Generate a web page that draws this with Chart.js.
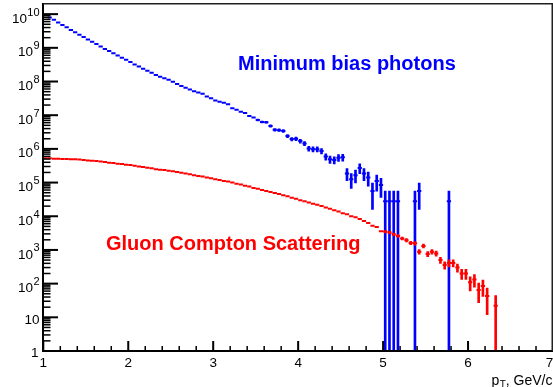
<!DOCTYPE html>
<html>
<head>
<meta charset="utf-8">
<script src="https://cdn.jsdelivr.net/npm/chart.js@4.4.0/dist/chart.umd.min.js"></script>
<style>
html,body{margin:0;padding:0;background:#ffffff;}
#wrap{width:553px;height:387px;}
</style>
</head>
<body>
<div id="wrap"><canvas id="c" width="553" height="387"></canvas></div>
<script>
// ---- bin centres (GeV/c), bin width 0.05 ----
const pT = [
  1.025,1.075,1.125,1.175,1.225,1.275,1.325,1.375,1.425,1.475,
  1.525,1.575,1.625,1.675,1.725,1.775,1.825,1.875,1.925,1.975,
  2.025,2.075,2.125,2.175,2.225,2.275,2.325,2.375,2.425,2.475,
  2.525,2.575,2.625,2.675,2.725,2.775,2.825,2.875,2.925,2.975,
  3.025,3.075,3.125,3.175,3.225,3.275,3.325,3.375,3.425,3.475,
  3.525,3.575,3.625,3.675,3.725,3.775,3.825,3.875,3.925,3.975,
  4.025,4.075,4.125,4.175,4.225,4.275,4.325,4.375,4.425,4.475,
  4.525,4.575,4.625,4.675,4.725,4.775,4.825,4.875,4.925,4.975,
  5.025,5.075,5.125,5.175,5.225,5.275,5.325,5.375,5.425,5.475,
  5.525,5.575,5.625,5.675,5.725,5.775,5.825,5.875,5.925,5.975,
  6.025,6.075,6.125,6.175,6.225,6.275,6.325
];

// ---- Minimum bias photons ----
const minBias = [
  9.5e9,7.9e9,6.8e9,5.6e9,4.8e9,4.1e9,3.4e9,2.9e9,2.45e9,2.1e9,
  1.78e9,1.51e9,1.29e9,1.1e9,9.3e8,8.1e8,6.9e8,5.9e8,5.1e8,4.4e8,
  3.8e8,3.2e8,2.8e8,2.4e8,2.1e8,1.82e8,1.55e8,1.38e8,1.26e8,1.12e8,
  9.8e7,8.5e7,7.4e7,6.5e7,5.8e7,5.1e7,4.7e7,4.3e7,3.6e7,3.2e7,
  2.75e7,2.5e7,2.35e7,2.1e7,1.62e7,1.45e7,1.26e7,1.17e7,9.5e6,8.5e6,
  7.2e6,6.3e6,6.2e6,4.8e6,3.7e6,3.6e6,3.4e6,2.4e6,1.95e6,2.0e6,
  1.7e6,1.45e6,1.02e6,9.8e5,9.8e5,8.7e5,5.9e5,4.9e5,4.7e5,5.5e5,
  5.6e5,1.86e5,1.26e5,1.66e5,2.7e5,1.86e5,1.41e5,5.6e4,1.12e5,8.5e4,
  2.8e4,2.8e4,2.8e4,2.8e4,0,0,0,2.8e4,5.6e4,0,
  0,0,0,0,0,2.8e4,0,0,0,0,
  0,0,0,0,0,0,0
];
const minBiasErr = [
  0,0,0,0,0,0,0,0,0,0,
  0,0,0,0,0,0,0,0,0,0,
  0,0,0,0,0,0,0,0,0,0,
  0,0,0,0,0,0,0,0,0,0,
  0,0,0,0,0,0,0,0,0,0,
  4.5e5,4.2e5,4.2e5,3.7e5,3.2e5,3.2e5,3.1e5,2.6e5,2.3e5,2.4e5,
  2.2e5,2.0e5,1.7e5,1.65e5,1.65e5,1.56e5,1.28e5,1.17e5,1.15e5,1.24e5,
  1.25e5,7.2e4,5.9e4,6.8e4,8.7e4,7.2e4,6.3e4,4.0e4,5.6e4,4.9e4,
  2.8e4,2.8e4,2.8e4,2.8e4,0,0,0,2.8e4,4.0e4,0,
  0,0,0,0,0,2.8e4,0,0,0,0,
  0,0,0,0,0,0,0
];

// ---- Gluon Compton Scattering ----
const gluonCompton = [
  5.25e5,5.25e5,5.1e5,5.1e5,5.0e5,5.0e5,4.9e5,4.9e5,4.8e5,4.7e5,
  4.55e5,4.45e5,4.35e5,4.2e5,4.1e5,3.9e5,3.8e5,3.65e5,3.55e5,3.4e5,
  3.3e5,3.15e5,3.0e5,2.9e5,2.75e5,2.65e5,2.5e5,2.4e5,2.35e5,2.25e5,
  2.15e5,2.05e5,1.95e5,1.86e5,1.78e5,1.66e5,1.58e5,1.51e5,1.41e5,1.35e5,
  1.26e5,1.2e5,1.12e5,1.07e5,1.0e5,9.3e4,8.7e4,8.1e4,7.6e4,6.9e4,
  6.5e4,6.0e4,5.6e4,5.25e4,4.9e4,4.6e4,4.2e4,3.9e4,3.55e4,3.3e4,
  3.0e4,2.8e4,2.55e4,2.35e4,2.2e4,2.0e4,1.82e4,1.66e4,1.51e4,1.38e4,
  1.23e4,1.15e4,1.0e4,9.3e3,8.3e3,7.2e3,6.3e3,5.2e3,4.8e3,3.6e3,
  3.5e3,3.3e3,2.9e3,2.6e3,2.2e3,1.95e3,1.62e3,1.58e3,890,1320,
  760,890,790,500,355,410,410,300,200,200,
  110,132,65,85,43,0,22
];
const gluonComptonErr = [
  0,0,0,0,0,0,0,0,0,0,
  0,0,0,0,0,0,0,0,0,0,
  0,0,0,0,0,0,0,0,0,0,
  0,0,0,0,0,0,0,0,0,0,
  0,0,0,0,0,0,0,0,0,0,
  0,0,0,0,0,0,0,0,0,0,
  0,0,0,0,0,0,0,0,0,0,
  0,0,0,0,0,0,0,0,0,0,
  277,269,253,239,220,207,189,186,140,170,
  129,140,132,105,88,95,95,81,66,66,
  49,54,38,43,31,0,22
];

// ---- axis ticks / labels ----
const xTickValues = [1,2,3,4,5,6,7];
const xTickLabels = ['1','2','3','4','5','6','7'];
const xMinorStep = 0.2;
const yTickExponents = [0,1,2,3,4,5,6,7,8,9,10];
const yTickBase = ['1','10','10','10','10','10','10','10','10','10','10'];
const yTickSup  = ['','','2','3','4','5','6','7','8','9','10'];
const yMinorMultipliers = [2,3,4,5,6,7,8,9];
const xTitleMain = 'p';
const xTitleSub = 'T';
const xTitleRest = ', GeV/c';
const labelMinBias = 'Minimum bias photons';
const labelGluon = 'Gluon Compton Scattering';

const BLUE = '#0000ff';
const RED = '#ff0000';
const FONT = '"Liberation Sans", Arial, Helvetica, sans-serif';

function markerPoints(vals) {
  const out = [];
  vals.forEach((v, i) => { if (v > 0) out.push({x: pT[i], y: v}); });
  return out;
}
function errorBars(vals, errs) {
  const out = [];
  vals.forEach((v, i) => {
    const e = errs[i];
    if (v > 0 && e > 0) out.push({x: pT[i], y: [Math.max(v - e, 1), v + e]});
  });
  return out;
}

// tick positions in data units (read by the axis-tick drawing below)
const yMajorTickValues = yTickExponents.map(e => Math.pow(10, e));
const yMinorTickValues = [];
yTickExponents.forEach(e => yMinorMultipliers.forEach(m => {
  const v = m * Math.pow(10, e);
  if (v < 2e10) yMinorTickValues.push(v);
}));
const xMinorTickValues = [];
for (let k = 0; k < xTickValues.length - 1; k++) {
  for (let j = 1; j < 5; j++) xMinorTickValues.push(Math.round((xTickValues[k] + j * xMinorStep) * 100) / 100);
}

const rootFrame = {
  id: 'rootFrame',
  beforeDatasetsDraw(chart) {
    const {ctx, chartArea: a, scales: {x, y}} = chart;
    ctx.save();
    ctx.fillStyle = '#000';
    ctx.textBaseline = 'alphabetic';
    const baseFont = '13.5px ' + FONT;
    const supFont = '11px ' + FONT;
    const rightX = a.left - 3.8;
    // y labels
    yTickExponents.forEach((e, k) => {
      const py = y.getPixelForValue(Math.pow(10, e));
      const sup = yTickSup[k];
      if (!sup) {
        ctx.font = baseFont; ctx.textAlign = 'right';
        ctx.fillText(yTickBase[k], rightX - (e === 0 ? 1 : 0), py + (e === 0 ? 5.5 : 6.2));
      } else {
        ctx.font = supFont;
        const we = ctx.measureText(sup).width;
        ctx.textAlign = 'left';
        ctx.fillText(sup, rightX - we, py + 1.4);
        ctx.font = baseFont; ctx.textAlign = 'right';
        ctx.fillText(yTickBase[k], rightX - we - 0.3, py + 8.6);
      }
    });
    // x labels
    ctx.font = baseFont; ctx.textAlign = 'center';
    xTickValues.forEach((v, k) => {
      const px = Math.min(x.getPixelForValue(v), chart.width - 3.5);
      ctx.fillText(xTickLabels[k], px, a.bottom + 15.5);
    });
    // x title (right aligned at the canvas edge)
    const tRight = chart.width - 1;
    const tBase = a.bottom + 34;
    ctx.font = '14px ' + FONT;
    const wRest = ctx.measureText(xTitleRest).width;
    const wMain = ctx.measureText(xTitleMain).width;
    ctx.font = '10px ' + FONT;
    const wSub = ctx.measureText(xTitleSub).width;
    const tx = tRight - wRest - wSub - wMain;
    ctx.textAlign = 'left';
    ctx.font = '14px ' + FONT;
    ctx.fillText(xTitleMain, tx, tBase);
    ctx.font = '10px ' + FONT;
    ctx.fillText(xTitleSub, tx + wMain + 0.5, tBase + 3);
    ctx.font = '14px ' + FONT;
    ctx.fillText(xTitleRest, tx + wMain + wSub + 0.5, tBase);
    // text labels
    ctx.font = 'bold 20px ' + FONT;
    ctx.fillStyle = BLUE;
    ctx.fillText(labelMinBias, 238, 70);
    ctx.fillStyle = RED;
    ctx.fillText(labelGluon, 106, 250);
    ctx.restore();
  },
  afterDraw(chart) {
    const ctx = chart.ctx;
    const a = chart.chartArea;
    const xs = chart.scales.x, ys = chart.scales.y;
    const L = Math.round(a.left), B = Math.round(a.bottom), T = Math.round(a.top), R = Math.round(a.right);
    ctx.save();
    ctx.fillStyle = '#000000';
    // y ticks (inside the frame, pointing right)
    for (let i = 0; i < yMajorTickValues.length; i++) {
      const py = ys.getPixelForValue(yMajorTickValues[i]);
      ctx.fillRect(L, py - 1, 15, 2);
    }
    for (let i = 0; i < yMinorTickValues.length; i++) {
      const py = ys.getPixelForValue(yMinorTickValues[i]);
      ctx.fillRect(L, py - 0.75, 7.5, 1.5);
    }
    // x ticks (inside the frame, pointing up)
    for (let i = 0; i < xTickValues.length; i++) {
      const px = xs.getPixelForValue(xTickValues[i]);
      ctx.fillRect(px - 1, B - 10, 2, 10);
    }
    for (let i = 0; i < xMinorTickValues.length; i++) {
      const px = xs.getPixelForValue(xMinorTickValues[i]);
      ctx.fillRect(px - 0.75, B - 5, 1.5, 5);
    }
    // frame: left & bottom axes (2px), top & right (1.5px)
    ctx.fillStyle = '#000';
    ctx.fillRect(L - 1, T - 1, 2, B - T + 2);
    ctx.fillRect(L - 1, B - 1, R - L + 1, 2);
    ctx.fillStyle = '#202020';
    ctx.fillRect(L, T - 1, R - L, 1.5);
    ctx.fillRect(R - 1.5, T - 1, 1.5, B - T + 1);
    ctx.restore();
  }
};

const halfBinPx = 2.12;

new Chart(document.getElementById('c'), {
  type: 'scatter',
  data: {
    datasets: [
      {
        type: 'scatter', label: 'Gluon Compton Scattering',
        data: markerPoints(gluonCompton),
        pointStyle: 'line', pointRadius: halfBinPx, pointHoverRadius: halfBinPx,
        pointBorderWidth: 2, pointBorderColor: RED, borderColor: RED, backgroundColor: RED,
        order: 0
      },
      {
        type: 'bar', label: 'Gluon Compton errors',
        data: errorBars(gluonCompton, gluonComptonErr),
        backgroundColor: RED, borderWidth: 0, grouped: false,
        maxBarThickness: 2, barPercentage: 1, categoryPercentage: 1,
        order: 0
      },
      {
        type: 'scatter', label: 'Minimum bias photons',
        data: markerPoints(minBias),
        pointStyle: 'line', pointRadius: halfBinPx, pointHoverRadius: halfBinPx,
        pointBorderWidth: 2, pointBorderColor: BLUE, borderColor: BLUE, backgroundColor: BLUE,
        order: 1
      },
      {
        type: 'bar', label: 'Minimum bias errors',
        data: errorBars(minBias, minBiasErr),
        backgroundColor: BLUE, borderWidth: 0, grouped: false,
        maxBarThickness: 2, barPercentage: 1, categoryPercentage: 1,
        order: 1
      }
    ]
  },
  options: {
    responsive: false,
    animation: false,
    devicePixelRatio: 1,
    layout: {autoPadding: false, padding: {left: 43.3, right: 0, top: 4, bottom: 36}},
    plugins: {legend: {display: false}, tooltip: {enabled: false}},
    events: [],
    scales: {
      x: {
        type: 'linear', min: 1, max: 7, offset: false,
        grid: {display: false, drawTicks: false, offset: false},
        border: {display: false},
        ticks: {display: false}
      },
      y: {
        type: 'logarithmic', min: 1, max: 2e10,
        grid: {display: false, drawTicks: false},
        border: {display: false},
        ticks: {display: false}
      }
    }
  },
  plugins: [rootFrame]
});
</script>
</body>
</html>
